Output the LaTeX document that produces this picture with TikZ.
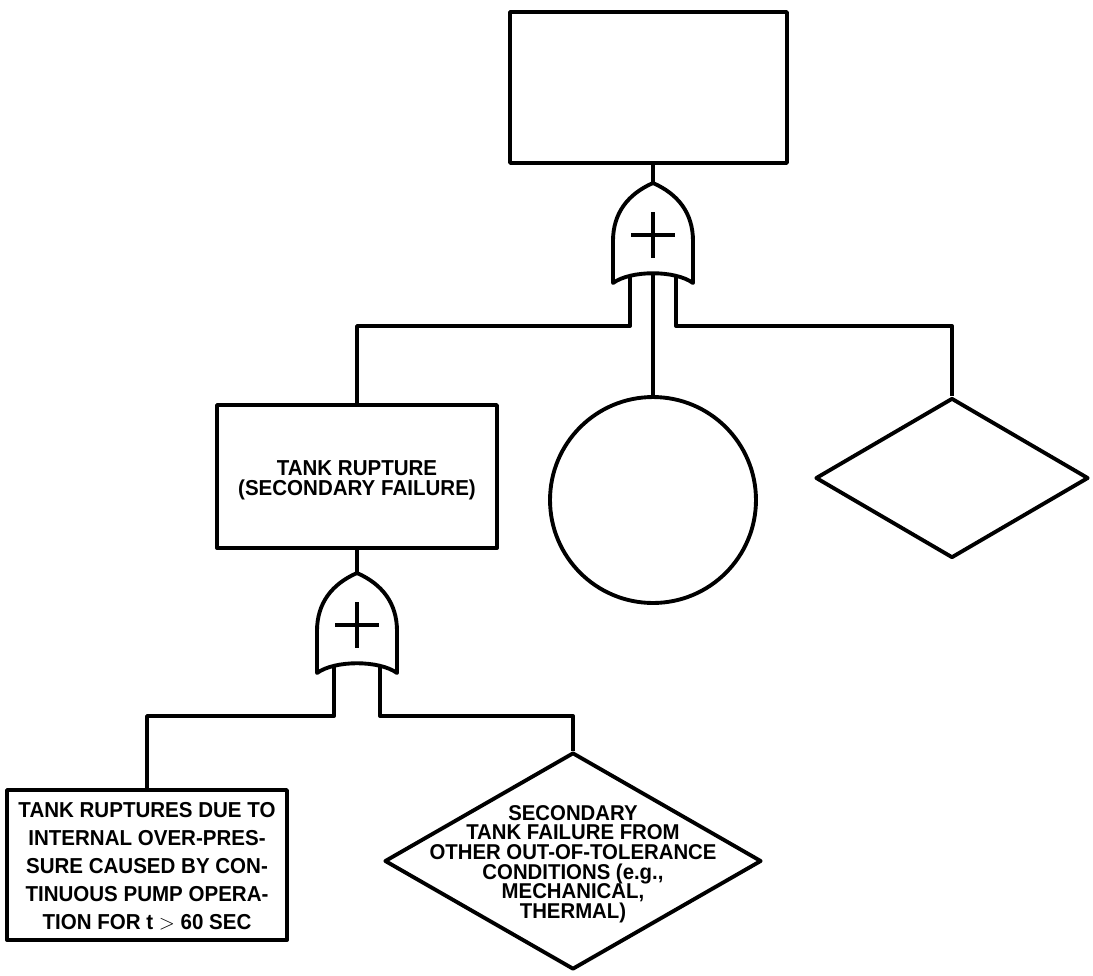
\documentclass[tikz,border=0pt]{standalone}
\usepackage{fontspec}
\setmainfont{Liberation Sans}[FakeStretch=0.95]
\usetikzlibrary{shapes.geometric}

\begin{document}
\begin{tikzpicture}[x=0.02cm, y=-0.02cm, line width=2.2pt, line join=round,
  event/.style={draw, rectangle, inner sep=0pt},
  basic/.style={draw, circle, inner sep=0pt, minimum size=4.12cm},
  undev/.style={draw, diamond, inner sep=0pt},
  evtext/.style={font=\bfseries\fontsize{12.3}{11.4}\selectfont, align=center},
  orgate/.pic={
    \draw[fill=white] (0,0) .. controls (25,11) and (40,30) .. (40,58) -- (40,100)
      .. controls (22,87) and (-22,87) .. (-40,100) -- (-40,58)
      .. controls (-40,30) and (-25,11) .. (0,0) -- cycle;
    \draw (-22,52) -- (22,52) (0,29) -- (0,75);
    \coordinate (-tip) at (0,0);
    \coordinate (-l) at (-23,92.9);
    \coordinate (-c) at (0,90.3);
    \coordinate (-r) at (23,92.9);
  }]

% Frame of the picture
\useasboundingbox (0,0) rectangle (1093,975);

% Top event and its OR gate
\node[event, minimum width=5.54cm, minimum height=3.02cm] (top) at (648.5,87.5) {};
\pic (orA) at (653,183) {orgate};
\coordinate (busA) at (0,326);

% Inputs of the top gate
\node[event, minimum width=5.6cm, minimum height=2.86cm] (tank) at (357,476.5) {};
\node[evtext] (tanktxt) at (357,480) {TANK RUPTURE\\(SECONDARY FAILURE)};
\node[basic] (basic) at (653,500) {};
\node[undev, minimum width=5.46cm, minimum height=3.2cm] (cond) at (952,478) {};

% Second OR gate
\pic (orB) at (357,573) {orgate};
\coordinate (busB) at (0,716);

% Inputs of the second gate
\node[event, minimum width=5.6cm, minimum height=3cm] (pump) at (147,865) {};
\node[evtext, font=\bfseries\fontsize{12.3}{15.9}\selectfont] (pumptxt) at (147,866)
  {TANK RUPTURES DUE TO\\INTERNAL OVER-PRES-\\SURE CAUSED BY CON-\\TINUOUS PUMP OPERA-\\TION FOR t $>$ 60 SEC};
\node[undev, minimum width=7.54cm, minimum height=4.34cm] (other) at (573,861) {};
\node[evtext, font=\bfseries\fontsize{12.2}{11.2}\selectfont] (othertxt) at (573,864)
  {SECONDARY\\TANK FAILURE FROM\\OTHER OUT-OF-TOLERANCE\\CONDITIONS (e.g.,\\MECHANICAL,\\THERMAL)};

% Connectors
\draw (top.south -| orA-tip) -- (orA-tip);
\draw (orA-l) -- (orA-l |- busA) -| (tank.north);
\draw (orA-c) -- (basic.north);
\draw (orA-r) -- (orA-r |- busA) -| (cond.north);
\draw (tank.south -| orB-tip) -- (orB-tip);
\draw (orB-l) -- (orB-l |- busB) -| (pump.north);
\draw (orB-r) -- (orB-r |- busB) -| (other.north);
\end{tikzpicture}
\end{document}
